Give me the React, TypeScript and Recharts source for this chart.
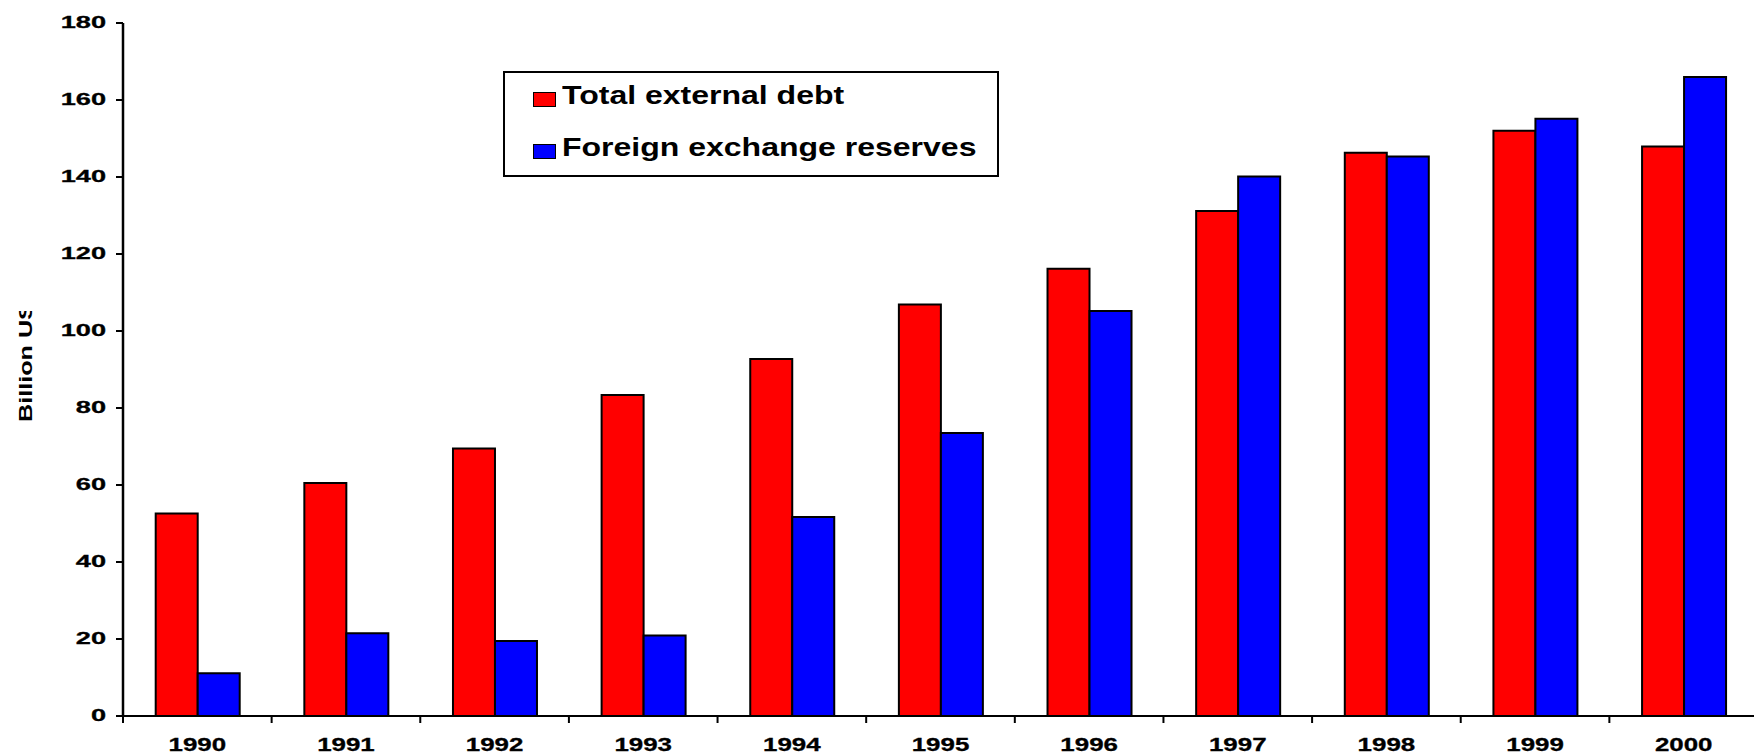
import { BarChart, Bar, XAxis, YAxis, Legend } from "recharts";

const years = ["1990", "1991", "1992", "1993", "1994", "1995", "1996", "1997", "1998", "1999", "2000"];
const externalDebt = [52.6, 60.5, 69.5, 83.4, 92.7, 106.9, 116.2, 131.2, 146.3, 152.0, 147.9];
const fxReserves = [11.1, 21.5, 19.5, 20.9, 51.7, 73.5, 105.2, 140.1, 145.3, 155.1, 166.0];
const yTicks = [0, 20, 40, 60, 80, 100, 120, 140, 160, 180];
const seriesNames = ["Total external debt", "Foreign exchange reserves"];
const seriesColors = ["#ff0000", "#0000ff"];
const axisTitle = "Billion US$";

const data = years.map((year, i) => ({
  year,
  debt: externalDebt[i],
  reserves: fxReserves[i],
}));

const W = 1754;
const H = 755;
const LEFT = 123;
const RIGHT_MARGIN = -4;
const BAND = (W - LEFT - RIGHT_MARGIN) / years.length;
const FONT = '"Liberation Sans", Arial, sans-serif';

function XTick(props: any) {
  const { x, y, payload } = props;
  return (
    <g>
      <line x1={x - BAND / 2} x2={x - BAND / 2} y1={y} y2={y + 7} stroke="#000" strokeWidth={2} />
      <text
        transform={`translate(${x},${y + 35}) scale(1.4,1)`}
        textAnchor="middle"
        fontFamily={FONT}
        fontWeight="bold"
        fontSize={18.5}
        stroke="#000"
        strokeWidth={0.3}
        fill="#000"
      >
        {payload.value}
      </text>
    </g>
  );
}

function YTick(props: any) {
  const { x, y, payload } = props;
  return (
    <g>
      <line x1={x - 7} x2={x} y1={y} y2={y} stroke="#000" strokeWidth={2} />
      <text
        transform={`translate(${x - 17},${y + 5}) scale(1.6,1)`}
        textAnchor="end"
        fontFamily={FONT}
        fontWeight="bold"
        fontSize={17}
        stroke="#000"
        strokeWidth={0.3}
        fill="#000"
      >
        {payload.value}
      </text>
    </g>
  );
}

function LegendBox() {
  return (
    <div
      style={{
        boxSizing: "border-box",
        width: 496,
        height: 106,
        border: "2px solid #000",
        background: "#fff",
        position: "relative",
        fontFamily: FONT,
        fontWeight: "bold",
      }}
    >
      {seriesNames.map((name, i) => (
        <div key={name} style={{ position: "absolute", left: 28, top: 19 + i * 52, height: 20 }}>
          <div
            style={{
              position: "absolute",
              left: 0,
              top: 0,
              width: 23,
              height: 15,
              boxSizing: "border-box",
              border: "1.5px solid #000",
              background: seriesColors[i],
            }}
          />
          <div
            style={{
              position: "absolute",
              left: 29,
              top: -11,
              fontSize: 25,
              lineHeight: "29px",
              whiteSpace: "nowrap",
              transform: "scaleX(1.28)",
              transformOrigin: "left center",
              color: "#000",
            }}
          >
            {name}
          </div>
        </div>
      ))}
    </div>
  );
}

export default function App() {
  return (
    <div style={{ position: "absolute", left: 0, top: 0, width: W, height: H, background: "#fff" }}>
      <BarChart
        width={W}
        height={H}
        data={data}
        margin={{ top: 23, right: RIGHT_MARGIN, bottom: 0, left: 0 }}
        barCategoryGap="22%"
        barGap={0}
      >
        <XAxis
          dataKey="year"
          height={39}
          axisLine={{ stroke: "#000", strokeWidth: 2 }}
          tickLine={false}
          tickSize={0}
          tickMargin={0}
          tick={<XTick />}
          interval={0}
        />
        <YAxis
          width={LEFT}
          domain={[0, 180]}
          ticks={yTicks}
          interval={0}
          axisLine={{ stroke: "#000", strokeWidth: 2.5 }}
          tickLine={false}
          tickSize={0}
          tickMargin={0}
          tick={<YTick />}
        />
        <Legend
          layout="horizontal"
          verticalAlign="middle"
          align="center"
          wrapperStyle={{ left: 503, top: 71, width: 496, height: 106 }}
          content={<LegendBox />}
        />
        <Bar dataKey="debt" name={seriesNames[0]} fill={seriesColors[0]} stroke="#000" strokeWidth={2} isAnimationActive={false} />
        <Bar dataKey="reserves" name={seriesNames[1]} fill={seriesColors[1]} stroke="#000" strokeWidth={2} isAnimationActive={false} />
      </BarChart>
      <svg width={60} height={H} style={{ position: "absolute", left: 0, top: 0 }}>
        <defs>
          <clipPath id="titleClip">
            <rect x={0} y={311} width={60} height={H - 311} />
          </clipPath>
        </defs>
        <g clipPath="url(#titleClip)">
          <text
            transform="translate(32,422) rotate(-90) scale(1.4,1)"
            fontFamily={FONT}
            fontWeight="bold"
            fontSize={18}
            fill="#000"
          >
            {axisTitle}
          </text>
        </g>
      </svg>
    </div>
  );
}
